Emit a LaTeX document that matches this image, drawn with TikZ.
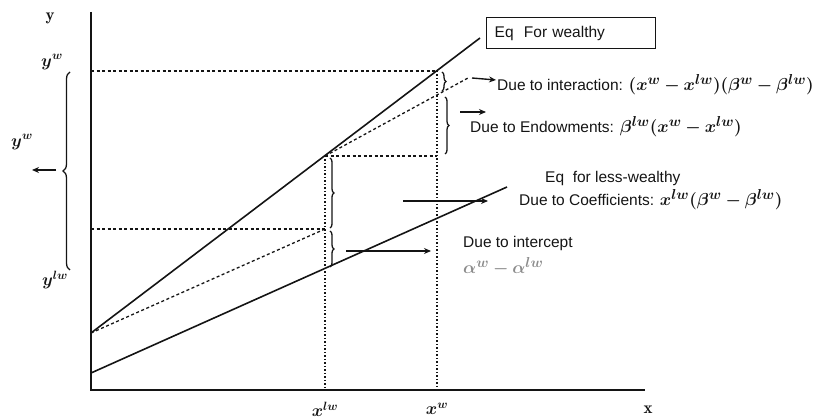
\documentclass[tikz,border=0pt]{standalone}
\usepackage{fontspec}
\usepackage{bm}
\setsansfont{Liberation Sans}
\usetikzlibrary{positioning,arrows.meta,decorations.pathreplacing,calc}
\definecolor{ink}{HTML}{141414}
\definecolor{inkmute}{HTML}{8C8C8C}
\newcommand{\eqm}[1]{{\fontsize{19}{20}\selectfont$\bm{#1}$}}

\begin{document}
\begin{tikzpicture}[
  x=1pt, y=-1pt,
  font=\sffamily\fontsize{15.5}{18}\selectfont,
  every node/.style={text=ink},
  axis/.style={line width=1.8pt, draw=ink},
  fitline/.style={line width=1.6pt, draw=ink},
  guide/.style={dash pattern=on 3pt off 2.5pt, line width=1.3pt, draw=ink},
  vguide/.style={dash pattern=on 1.5pt off 2pt, line width=1.6pt, draw=ink},
  brc/.style={decorate, decoration={brace, amplitude=4pt}, line width=1.3pt, draw=ink},
  arr/.style={-{Stealth[length=7pt,width=6pt]}, line width=1.4pt, draw=ink},
  lbl/.style={font=\fontsize{17}{19}\selectfont},
  txt/.style={anchor=west, inner sep=0pt}
]
\useasboundingbox (0,0) rectangle (823,419);

% Axes and key points
\coordinate (O) at (91,390);
\coordinate (ytop) at (91,12);
\coordinate (xend) at (645,390);
\coordinate (aw) at (91,333);
\coordinate (wend) at (480,38);
\coordinate (alw) at (91,373);
\coordinate (lwend) at (507,187);
\coordinate (Pw) at (437,71);
\coordinate (Plw) at (325,156);
\coordinate (Qlw) at (325,229);
\coordinate (Yw) at (91,71);
\coordinate (Ylw) at (91,229);
\coordinate (Xw) at (437,390);
\coordinate (Xlw) at (325,390);
\coordinate (cfend) at (468,78);

\draw[axis] (ytop) -- (O) -- (xend);

% The two regression lines and the counterfactual ones
\draw[fitline] (aw) -- (wend);
\draw[fitline] (alw) -- (lwend);
\draw[guide] (aw) -- (Qlw);
\draw[guide] (Plw) -- (cfend);

% Guides to the axes
\draw[guide] (Yw) -- (Pw);
\draw[guide] (Plw) -- (Plw -| Pw);
\draw[guide] (Ylw) -- (Qlw);
\draw[vguide] (Plw) -- (Xlw);
\draw[vguide] (Pw) -- (Xw);

% Braces
\draw[brc] ($(Pw)+(5,1)$) -- ($(Pw)+(5,20)$);
\draw[brc] (445,97) -- (445,154);
\draw[brc] ($(Plw)+(5,2)$) -- ($(Qlw)+(5,-1)$);
\draw[brc] ($(Qlw)+(5,2)$) -- (330,267);
\draw[brc, decoration={amplitude=7pt}] (70,270) -- (70,72);

% Arrows to the labels
\coordinate (ia) at (472,78);
\coordinate (ib) at (496,80);
\coordinate (ea) at (460,112);
\coordinate (eb) at (486,112);
\coordinate (ca) at (403,201);
\coordinate (cb) at (488,201);
\coordinate (na) at (346,251);
\coordinate (nb) at (431,251);
\coordinate (la) at (56,170);
\coordinate (lb) at (32,170);
\draw[arr] (ia) -- (ib);
\draw[arr] (ea) -- (eb);
\draw[arr] (ca) -- (cb);
\draw[arr] (na) -- (nb);
\draw[arr] (la) -- (lb);

% Axis labels
\node[lbl] (ylab) at (50,18) {$\mathbf{y}$};
\node[lbl] (xlab) at (648,410) {$\mathbf{x}$};
\node[lbl] (ywlab) at (52,62) {$\bm{y^{w}}$};
\node[lbl] (ylwlab) at (55,280) {$\bm{y^{lw}}$};
\node[lbl] (ydiff) at (22,142) {$\bm{y^{w}}$};
\node[lbl] (xlwlab) at (325,409) {$\bm{x^{lw}}$};
\node[lbl] (xwlab) at (437,409) {$\bm{x^{w}}$};

% Decomposition labels
\node[draw=ink, line width=1.4pt, anchor=north west, minimum width=169pt, minimum height=31pt,
      text width=153pt, inner xsep=8pt, align=left] (eqw) at (486,17) {Eq\ \ For wealthy};
\node[txt] (inter) at (497,85) {Due to interaction: \eqm{(x^{w}-x^{lw})(\beta^{w}-\beta^{lw})}};
\node[txt] (endow) at (470,127) {Due to Endowments: \eqm{\beta^{lw}(x^{w}-x^{lw})}};
\node[txt] (eqlw) at (545,178) {Eq\ \ for less-wealthy};
\node[txt] (coef) at (519,200) {Due to Coefficients: \eqm{x^{lw}(\beta^{w}-\beta^{lw})}};
\node[txt] (icpt) at (463,243) {Due to intercept};
\node[txt, text=inkmute, below=7pt of icpt.south west, anchor=north west] (icptf) {\eqm{\alpha^{w}-\alpha^{lw}}};

\end{tikzpicture}
\end{document}
